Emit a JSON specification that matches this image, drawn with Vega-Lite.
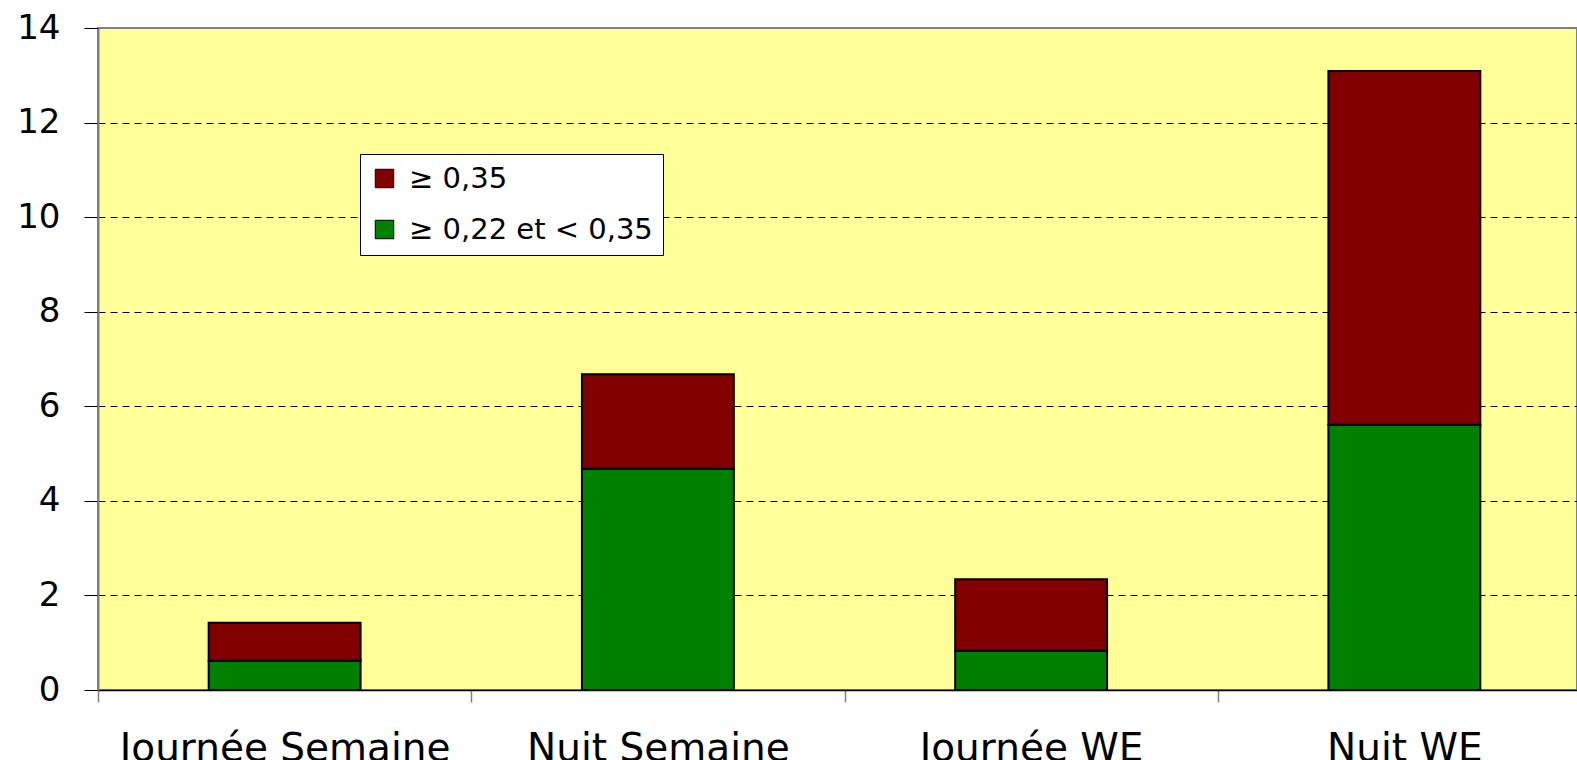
{
  "$schema": "https://vega.github.io/schema/vega-lite/v6.json",
  "autosize": "none",
  "padding": {"left": 98, "top": 28, "right": 0, "bottom": 70},
  "width": 1479,
  "height": 662,
  "background": "white",
  "config": {
    "view": {"fill": "#FFFF99", "stroke": "#808080", "strokeWidth": 2},
    "font": "DejaVu Sans"
  },
  "data": {
    "values": [
      {"periode": "Journée Semaine", "classe": "≥ 0,22 et < 0,35", "ordre": 1, "valeur": 0.62},
      {"periode": "Journée Semaine", "classe": "≥ 0,35", "ordre": 2, "valeur": 0.80},
      {"periode": "Nuit Semaine", "classe": "≥ 0,22 et < 0,35", "ordre": 1, "valeur": 4.68},
      {"periode": "Nuit Semaine", "classe": "≥ 0,35", "ordre": 2, "valeur": 2.00},
      {"periode": "Journée WE", "classe": "≥ 0,22 et < 0,35", "ordre": 1, "valeur": 0.83},
      {"periode": "Journée WE", "classe": "≥ 0,35", "ordre": 2, "valeur": 1.51},
      {"periode": "Nuit WE", "classe": "≥ 0,22 et < 0,35", "ordre": 1, "valeur": 5.61},
      {"periode": "Nuit WE", "classe": "≥ 0,35", "ordre": 2, "valeur": 7.48}
    ]
  },
  "mark": {"type": "bar", "stroke": "black", "strokeWidth": 2, "width": {"band": 0.407}},
  "encoding": {
    "x": {
      "field": "periode",
      "type": "nominal",
      "sort": ["Journée Semaine", "Nuit Semaine", "Journée WE", "Nuit WE"],
      "scale": {"rangeMin": 0, "rangeMax": 1493, "paddingInner": 0, "paddingOuter": 0},
      "axis": {
        "title": null,
        "labelAngle": 0,
        "labelFontSize": 39,
        "labelFont": "DejaVu Sans",
        "labelColor": "black",
        "labelPadding": 27,
        "labelLimit": 0,
        "labelOverlap": false,
        "tickSize": 12,
        "tickColor": "#808080",
        "tickWidth": 1.5,
        "tickBand": "extent",
        "domainColor": "black",
        "domainWidth": 1.5,
        "grid": false
      }
    },
    "y": {
      "field": "valeur",
      "type": "quantitative",
      "stack": "zero",
      "scale": {"domain": [0, 14], "nice": false},
      "axis": {
        "title": null,
        "values": [0, 2, 4, 6, 8, 10, 12, 14],
        "labelFontSize": 34,
        "labelFont": "DejaVu Sans",
        "labelColor": "black",
        "labelPadding": 24,
        "tickSize": 14,
        "tickColor": "black",
        "tickWidth": 1,
        "domainColor": "#808080",
        "domainWidth": 2,
        "grid": true,
        "gridColor": "black",
        "gridDash": [7, 5],
        "gridWidth": 1,
        "gridOpacity": {"condition": {"test": "datum.value >= 14", "value": 0}, "value": 1}
      }
    },
    "color": {
      "field": "classe",
      "type": "nominal",
      "scale": {"domain": ["≥ 0,35", "≥ 0,22 et < 0,35"], "range": ["#800000", "#008000"]},
      "legend": {
        "title": null,
        "orient": "none",
        "legendX": 262,
        "legendY": 126,
        "fillColor": "white",
        "strokeColor": "black",
        "padding": 10,
        "symbolType": "square",
        "symbolSize": 340,
        "symbolStrokeColor": "black",
        "symbolStrokeWidth": 1,
        "labelFontSize": 29,
        "labelFont": "DejaVu Sans",
        "labelColor": "black",
        "labelLimit": 500,
        "labelOffset": 10,
        "rowPadding": 21
      }
    },
    "order": {"field": "ordre", "type": "quantitative"}
  }
}
